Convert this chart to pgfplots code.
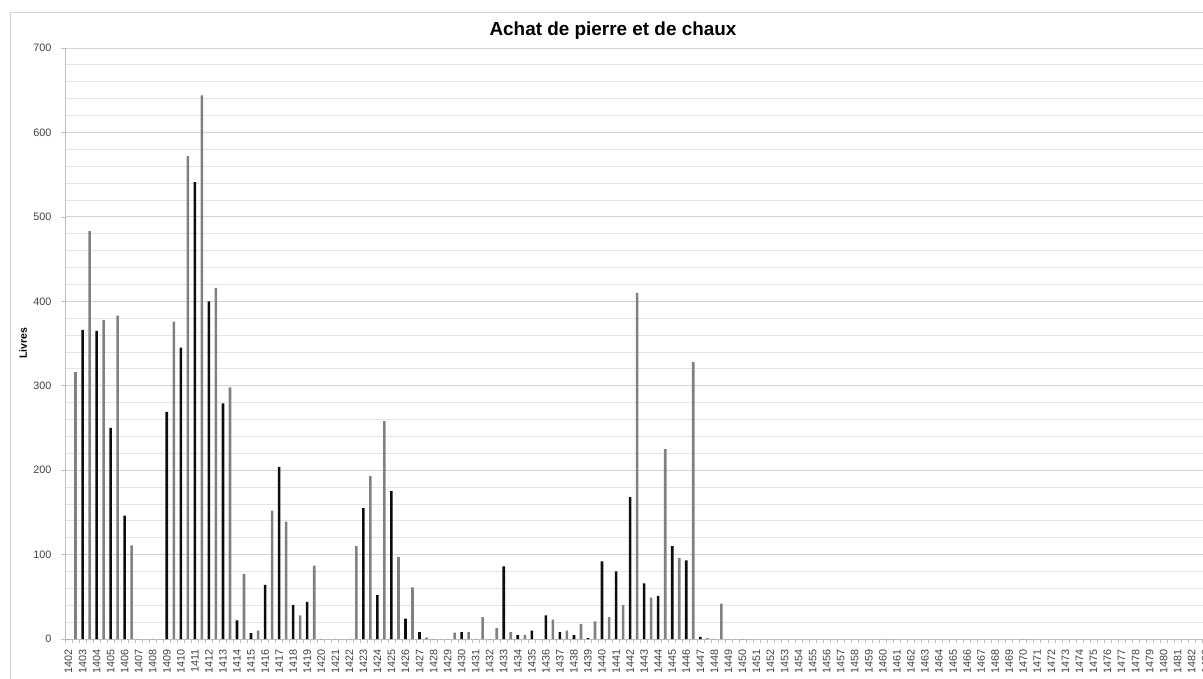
\documentclass[border=0pt]{standalone}
\usepackage{fontspec}
\setmainfont{Liberation Sans}
\usepackage{pgfplots}
\usepackage{pgfplotstable}
\pgfplotsset{compat=1.18}
\definecolor{bargray}{HTML}{808080}
\definecolor{barblack}{HTML}{0D0D0D}
\definecolor{gridmaj}{HTML}{D2D2D2}
\definecolor{gridmin}{HTML}{E4E4E4}
\definecolor{axgray}{HTML}{BDBDBD}
\definecolor{labgray}{HTML}{404040}

\pgfplotstableread{
year black gray
1402 0 316
1403 366 483
1404 365 378
1405 250 383
1406 146 111
1407 0 0
1408 0 0
1409 269 376
1410 345 572
1411 541 644
1412 400 416
1413 279 298
1414 22 77
1415 7 10
1416 64 152
1417 204 139
1418 40 28
1419 44 87
1420 0 0
1421 0 0
1422 0 110
1423 155 193
1424 52 258
1425 175 97
1426 24 61
1427 8 1.5
1428 0 0
1429 0 7.5
1430 8 8
1431 0 26
1432 0 13
1433 86 8
1434 5 5
1435 10 0
1436 28 23
1437 8 10
1438 4.5 18
1439 1 21
1440 92 26
1441 80 40
1442 168 410
1443 66 49
1444 51 225
1445 110 96
1446 93 328
1447 2.5 1
1448 0 42
1449 0 0
1450 0 0
1460 0 0
1470 0 0
1483 0 0
}\datatable

\begin{document}
\begin{tikzpicture}
\begin{axis}[
  scale only axis, width=1140.75pt, height=591pt,
  at={(65pt,39pt)}, anchor=south west,
  xmin=-0.5, xmax=162, ymin=0, ymax=700,
  axis lines*=left,
  axis line style={axgray},
  xtick={-0.5,0.5,...,162},
  xticklabels={},
  extra x ticks={0,2,...,162},
  extra x tick labels={1402,1403,1404,1405,1406,1407,1408,1409,1410,1411,1412,1413,1414,1415,1416,1417,1418,1419,1420,1421,1422,1423,1424,1425,1426,1427,1428,1429,1430,1431,1432,1433,1434,1435,1436,1437,1438,1439,1440,1441,1442,1443,1444,1445,1446,1447,1448,1449,1450,1451,1452,1453,1454,1455,1456,1457,1458,1459,1460,1461,1462,1463,1464,1465,1466,1467,1468,1469,1470,1471,1472,1473,1474,1475,1476,1477,1478,1479,1480,1481,1482,1483},
  extra x tick style={major tick length=0pt},
  ytick={0,100,...,700},
  minor y tick num=4,
  ymajorgrids, yminorgrids,
  major grid style={gridmaj, line width=0.8pt},
  minor grid style={gridmin, line width=0.8pt},
  tick align=outside,
  major tick length=4pt,
  minor tick length=0pt,
  tick style={axgray, line width=0.6pt},
  ticklabel style={font=\fontsize{10.8}{13}\selectfont, text=labgray},
  xticklabel style={rotate=90, anchor=east, xshift=-7pt},
  yticklabel style={xshift=-6pt},
  /pgf/number format/assume math mode=true,
  ylabel={Livres},
  every axis y label/.style={at={(rel axis cs:0,0.5)}, xshift=-42pt, rotate=90, anchor=center, font=\bfseries\fontsize{10.5}{12}\selectfont},
]
\addplot[ybar, bar width=2.6pt, bar shift=0pt, fill=barblack, draw=none]
  table[x expr={2*(\thisrow{year}-1402)}, y=black] {\datatable};
\addplot[ybar, bar width=2.6pt, bar shift=0pt, fill=bargray, draw=none]
  table[x expr={2*(\thisrow{year}-1402)+1}, y=gray] {\datatable};
\end{axis}
\node[font=\bfseries\fontsize{18.9}{22}\selectfont, anchor=base] at (613pt,642pt) {Achat de pierre et de chaux};
\draw[gridmaj, line width=0.8pt] (10pt,-5pt) -- (10pt,666pt) -- (1215pt,666pt);
\pgfresetboundingbox
\path[use as bounding box] (0,0) rectangle (1203pt,678pt);
\end{tikzpicture}
\end{document}
